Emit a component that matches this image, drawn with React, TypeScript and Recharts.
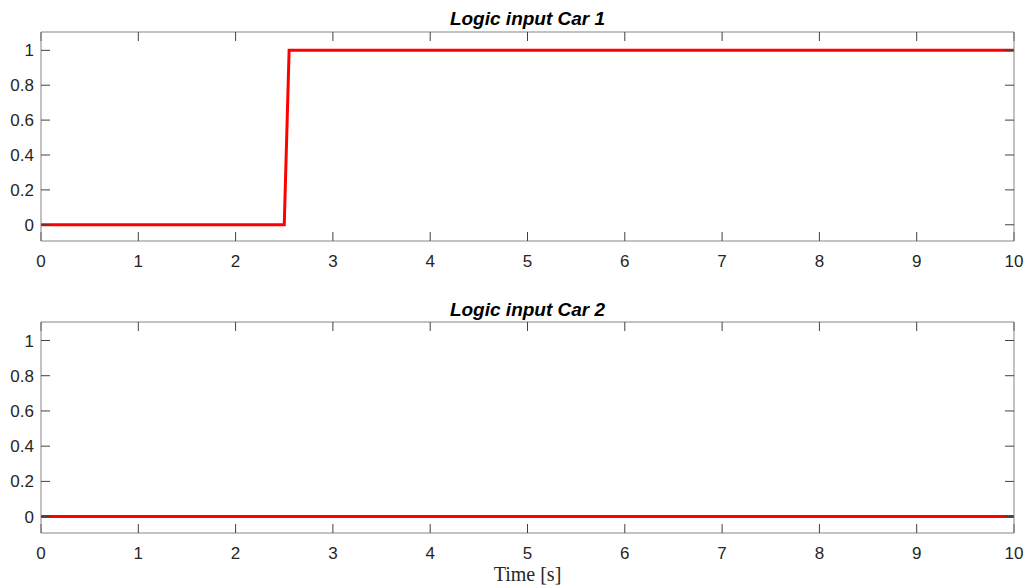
import React from 'react';
import { LineChart, Line, XAxis, YAxis } from 'recharts';

const time = [0, 2.5, 2.55, 10];
const car1 = [0, 0, 1, 1];
const car2 = [0, 0, 0, 0];
const xTicks = [0, 1, 2, 3, 4, 5, 6, 7, 8, 9, 10];
const yTicks = [0, 0.2, 0.4, 0.6, 0.8, 1];
const yDomain = [-0.093, 1.105];
const titles = ['Logic input Car 1', 'Logic input Car 2'];
const xLabel = 'Time [s]';

const data1 = time.map((t, i) => ({ t, v: car1[i] }));
const data2 = time.map((t, i) => ({ t, v: car2[i] }));

const axisStroke = '#858585';
const tickStroke = '#404040';
const sansFont = 'Arial, "Liberation Sans", sans-serif';
const tickFont = { fontSize: 17, fill: '#262626', fontFamily: sansFont };

function Panel({ data, title, top, height, titleTop }: { data: any[]; title: string; top: number; height: number; titleTop: number }) {
  return (
    <div style={{ position: 'absolute', left: 0, top, width: 1030, height }}>
      <div
        style={{
          position: 'absolute',
          left: 41,
          width: 973,
          top: titleTop,
          textAlign: 'center',
          fontFamily: sansFont,
          fontWeight: 'bold',
          fontStyle: 'italic',
          fontSize: 19,
          color: '#000',
          lineHeight: '24px',
        }}
      >
        {title}
      </div>
      <LineChart width={1030} height={height} data={data} margin={{ top: 31, right: 15, left: 0, bottom: 0 }}>
        <XAxis
          xAxisId="b"
          dataKey="t"
          type="number"
          domain={[0, 10]}
          ticks={xTicks}
          height={49}
          tickSize={-9}
          tickMargin={23}
          interval={0}
          fontSize={17}
          axisLine={{ stroke: axisStroke }}
          tickLine={{ stroke: tickStroke }}
          tick={tickFont}
        />
        <XAxis
          xAxisId="t"
          dataKey="t"
          type="number"
          orientation="top"
          domain={[0, 10]}
          ticks={xTicks}
          height={1}
          tickSize={-9}
          interval={0}
          axisLine={{ stroke: axisStroke }}
          tickLine={{ stroke: tickStroke }}
          tickFormatter={() => ''}
        />
        <YAxis
          yAxisId="l"
          type="number"
          domain={yDomain}
          ticks={yTicks}
          width={41}
          tickSize={-9}
          tickMargin={16}
          interval={0}
          fontSize={17}
          allowDataOverflow
          axisLine={{ stroke: axisStroke }}
          tickLine={{ stroke: tickStroke }}
          tick={tickFont}
        />
        <YAxis
          yAxisId="r"
          type="number"
          orientation="right"
          domain={yDomain}
          ticks={yTicks}
          width={1}
          tickSize={-9}
          interval={0}
          allowDataOverflow
          axisLine={{ stroke: axisStroke }}
          tickLine={{ stroke: tickStroke }}
          tickFormatter={() => ''}
        />
        <Line
          xAxisId="t"
          yAxisId="r"
          type="linear"
          dataKey="v"
          stroke="none"
          strokeWidth={0}
          dot={false}
          activeDot={false}
          isAnimationActive={false}
        />
        <Line
          xAxisId="b"
          yAxisId="l"
          type="linear"
          dataKey="v"
          stroke="#ff0000"
          strokeWidth={3}
          dot={false}
          activeDot={false}
          isAnimationActive={false}
        />
      </LineChart>
    </div>
  );
}

export default function App() {
  return (
    <div style={{ position: 'absolute', left: 0, top: 0, width: 1030, height: 588, background: '#fff' }}>
      <Panel data={data1} title={titles[0]} top={0} height={290} titleTop={7} />
      <Panel data={data2} title={titles[1]} top={290} height={292} titleTop={8} />
      <div
        style={{
          position: 'absolute',
          left: 41,
          width: 973,
          top: 562,
          textAlign: 'center',
          fontFamily: '"Liberation Serif", "DejaVu Serif", serif',
          fontSize: 20,
          color: '#262626',
          lineHeight: '24px',
        }}
      >
        {xLabel}
      </div>
    </div>
  );
}
